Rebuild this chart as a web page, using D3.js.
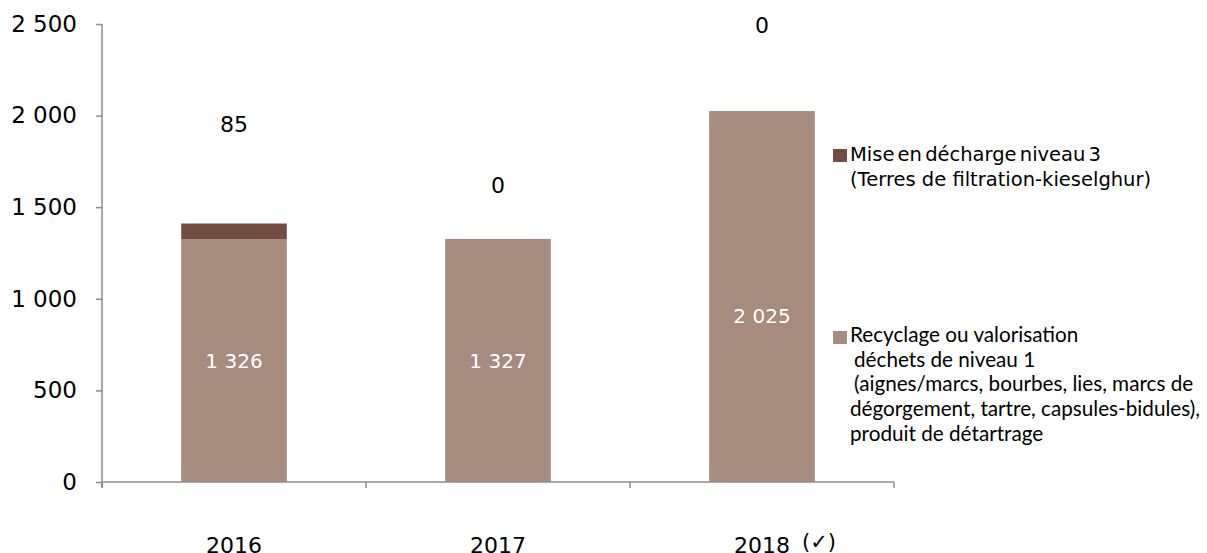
<!DOCTYPE html>
<html>
<head>
<meta charset="utf-8">
<script src="https://cdn.jsdelivr.net/npm/d3@7"></script>
<style>
  body { margin: 0; background: #fff; }
  svg { display: block; }
</style>
</head>
<body>
<div id="chart"></div>
<script>
// data
const years = ["2016", "2017", "2018"];
const recyclage = [1326, 1327, 2025];
const decharge = [85, 0, 0];
// where Excel put the labels (in data units, manually dragged)
const dechargeLabelAt = [1950, 1620, 2495];
const recyclageLabelAt = [663, 663, 905];
const yTicks = [0, 500, 1000, 1500, 2000, 2500];

const width = 1207, height = 553;
const margin = { top: 24, right: 313, bottom: 71, left: 102 };

const svg = d3.select("#chart").append("svg")
  .attr("width", width)
  .attr("height", height);

const x = d3.scaleBand()
  .domain(years)
  .range([margin.left, width - margin.right])
  .paddingInner(0.6)
  .paddingOuter(0.3);

const y = d3.scaleLinear()
  .domain([0, 2500])
  .range([height - margin.bottom, margin.top]);

const colBase = "#a68b7f";
const colTop = "#744d42";
const axisCol = "#8c8c8c";
const numFmt = (v) => d3.format(",")(v).replace(/,/g, " ");

// bars
const g = svg.append("g");
g.selectAll("rect.base")
  .data(years)
  .join("rect")
  .attr("class", "base")
  .attr("x", (d) => x(d))
  .attr("width", x.bandwidth())
  .attr("y", (d, i) => y(recyclage[i]))
  .attr("height", (d, i) => y(0) - y(recyclage[i]))
  .attr("fill", colBase);

g.selectAll("rect.top")
  .data(years)
  .join("rect")
  .attr("class", "top")
  .attr("x", (d) => x(d))
  .attr("width", x.bandwidth())
  .attr("y", (d, i) => y(recyclage[i] + decharge[i]))
  .attr("height", (d, i) => y(recyclage[i]) - y(recyclage[i] + decharge[i]))
  .attr("fill", colTop);

// y axis
const yAxis = d3.axisLeft(y)
  .tickValues(yTicks)
  .tickSize(6)
  .tickPadding(19)
  .tickFormat(numFmt);

const ya = svg.append("g")
  .attr("transform", "translate(" + margin.left + ",0)")
  .call(yAxis);
ya.select(".domain").attr("stroke", axisCol).attr("stroke-width", 1.5)
  .attr("d", "M0," + y(2500) + "V" + (y(0) + 6));
ya.selectAll(".tick line").attr("stroke", axisCol).attr("stroke-width", 1.5);
ya.selectAll(".tick text")
  .attr("fill", "#000")
  .style("font-family", "DejaVu Sans, Verdana, sans-serif")
  .style("font-size", "23px");

// x axis
const xa = svg.append("g");
const x0 = margin.left, x1 = width - margin.right;
xa.append("line")
  .attr("x1", x0).attr("x2", x1)
  .attr("y1", y(0)).attr("y2", y(0))
  .attr("stroke", axisCol).attr("stroke-width", 1.5);
xa.selectAll("line.tk")
  .data(d3.range(years.length + 1))
  .join("line")
  .attr("class", "tk")
  .attr("x1", (i) => x0 + i * (x1 - x0) / years.length)
  .attr("x2", (i) => x0 + i * (x1 - x0) / years.length)
  .attr("y1", y(0))
  .attr("y2", y(0) + 6)
  .attr("stroke", axisCol).attr("stroke-width", 1.5);

xa.selectAll("text.xl")
  .data(years)
  .join("text")
  .attr("class", "xl")
  .attr("x", (d) => x(d) + x.bandwidth() / 2)
  .attr("y", y(0) + 71)
  .attr("text-anchor", "middle")
  .style("font-family", "DejaVu Sans, Verdana, sans-serif")
  .style("font-size", "22px")
  .text((d) => d);

// the check mark after 2018
xa.append("text")
  .attr("x", x("2018") + x.bandwidth() / 2 + 40)
  .attr("y", y(0) + 67)
  .style("font-family", "DejaVu Sans, sans-serif")
  .style("font-size", "21px")
  .text("(✓)");

// labels
g.selectAll("text.lt")
  .data(years)
  .join("text")
  .attr("class", "lt")
  .attr("x", (d) => x(d) + x.bandwidth() / 2)
  .attr("y", (d, i) => y(dechargeLabelAt[i]))
  .attr("dy", "0.35em")
  .attr("text-anchor", "middle")
  .style("font-family", "DejaVu Sans, Verdana, sans-serif")
  .style("font-size", "22px")
  .text((d, i) => numFmt(decharge[i]));

g.selectAll("text.lb")
  .data(years)
  .join("text")
  .attr("class", "lb")
  .attr("x", (d) => x(d) + x.bandwidth() / 2)
  .attr("y", (d, i) => y(recyclageLabelAt[i]))
  .attr("dy", "0.35em")
  .attr("text-anchor", "middle")
  .attr("fill", "#fff")
  .style("font-family", "DejaVu Sans, Verdana, sans-serif")
  .style("font-size", "20px")
  .text((d, i) => numFmt(recyclage[i]));

// legend
const leg = svg.append("g");
leg.append("rect")
  .attr("x", 833).attr("y", 149).attr("width", 14).attr("height", 13)
  .attr("fill", colTop);
leg.append("text")
  .attr("x", 850).attr("y", 155)
  .style("font-family", "DejaVu Sans, Verdana, sans-serif")
  .style("font-size", "19.5px")
  .selectAll("tspan")
  .data(["Mise en décharge niveau 3", "(Terres de filtration-kieselghur)"])
  .join("tspan")
  .attr("x", 850)
  .attr("dy", (d, i) => (i ? 25 : 0))
  .attr("dominant-baseline", "middle")
  .style("word-spacing", (d, i) => (i ? "0px" : "-3px"))
  .text((d) => d);

leg.append("rect")
  .attr("x", 833).attr("y", 331).attr("width", 14).attr("height", 13)
  .attr("fill", colBase);
const recLines = [
  "Recyclage ou valorisation",
  " déchets de niveau 1",
  " (aignes/marcs, bourbes, lies, marcs de",
  "dégorgement, tartre, capsules-bidules),",
  "produit de détartrage"
];
leg.append("text")
  .attr("x", 850).attr("y", 337)
  .style("font-family", "Lato, Open Sans, sans-serif")
  .style("font-size", "20.7px")
  .selectAll("tspan")
  .data(recLines)
  .join("tspan")
  .attr("x", (d) => (d.startsWith(" ") ? 854 : 850))
  .attr("dy", (d, i) => (i ? 24.6 : 0))
  .attr("dominant-baseline", "middle")
  .text((d) => d.trim());
</script>
</body>
</html>
